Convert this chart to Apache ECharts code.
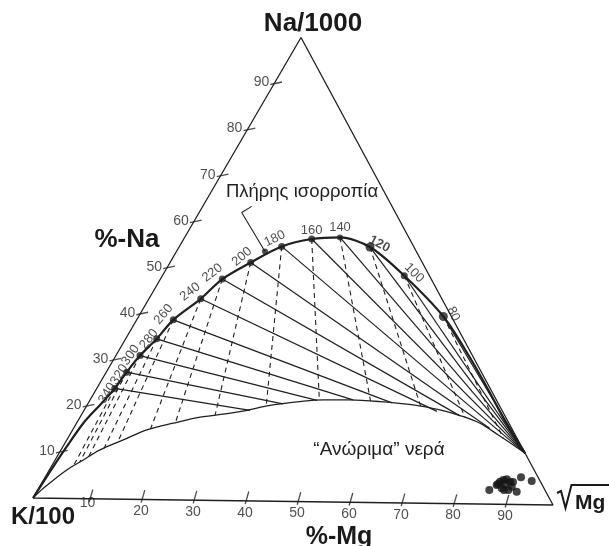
<!DOCTYPE html>
<html><head><meta charset="utf-8">
<script src="https://cdn.jsdelivr.net/npm/echarts/dist/echarts.min.js"></script>
<style>html,body{margin:0;padding:0;background:#fff;}#c{width:609px;height:546px;}</style>
</head><body><div id="c"></div>
<script>
// ---- Data (ternary percentages: Na and Mg; K = 100 - Na - Mg) ----
const eqTemps = [340,320,300,280,260,240,220,200,180,160,140,120,100,80];
const eqNa = [23.84,27.39,31.0,34.66,38.8,43.41,47.72,51.39,54.93,56.61,57.04,55.05,48.96,40.30];
const eqMg = [3.43,3.90,4.60,5.93,6.98,9.88,11.81,15.38,19.52,24.42,29.64,36.43,46.17,58.14];
const eqLowNa = [0,5.72,11.16,16.26,20.25];
const eqLowMg = [0,0.32,0.73,1.29,2.45];
const eqHighNa = [31.7,24.5,17.5,11.1];
const eqHighMg = [67.6,75.0,82.0,88.9];
const immNa = [0,2.12,6.14,8.34,10.55,12.77,15.0,16.52,17.89,19.22,20.76,21.98,22.06,21.78,21.16,20.16,18.79,17.41,14.94,12.83,11.1];
const immMg = [0,0.89,3.32,5.37,7.45,10.78,14.14,18.47,22.89,29.90,35.51,44.50,49.59,55.51,62.23,67.88,73.07,76.99,81.78,85.76,88.9];
const solidEndNa = [19.50,21.0,21.86,22.07,21.53,19.83,18.93,16.32,11.1,11.1,11.1,11.1,11.1,11.1];
const solidEndMg = [31.68,37.25,43.35,50.16,57.94,67.47,72.36,79.47,88.9,88.9,88.9,88.9,88.9,88.9];
const dashEndNa = [7.04,7.87,9.05,10.95,12.22,15.22,16.62,18.39,20.43,21.88,21.87,20.89,18.65,14.21];
const dashEndMg = [4.16,4.94,6.04,8.04,9.96,14.75,18.81,25.55,34.31,43.79,53.64,63.78,73.48,83.15];
const sampleNa = [3.05,4.15,4.87,5.25,5.41,4.90,3.45,3.83,2.76,5.88,5.11,3.11,4.39,4.37,4.84,3.09];
const sampleMg = [86.18,87.03,87.30,87.74,88.31,89.21,88.36,90.09,91.60,90.82,93.27,89.80,88.51,87.17,89.81,88.98];
const leaderNa = [53.8,62.14,63.47];
const leaderMg = [16.89,8.11,9.35];
const naTicks = [10,20,30,40,50,60,70,80,90];
const mgTicks = [10,20,30,40,50,60,70,80,90];

// ---- Layout / style (not data) ----
const VK = [33,498], VNa = [301,37.5], VMg = [553,505];
function T(na, mg){
  return [VK[0] + (VNa[0]-VK[0])*na/100 + (VMg[0]-VK[0])*mg/100,
          VK[1] + (VNa[1]-VK[1])*na/100 + (VMg[1]-VK[1])*mg/100];
}
const FONT = 'Liberation Sans, Arial, sans-serif';
const INK = '#1f1f1f';
const labelOffset = [[-8,-4],[-6,-5],[-5,-8],[-5,-6],[-2,-11],[-4,-12],[-4,-11],[-3,-10],[-3,-10],[0,-9],[0,-9.5],[7,-7],[5,-9],[2,-10]];
const labelRotate = [58,58,55,52,50,38,38,40,25,0,0,-28,-45,-65];
const dotSize = [7,7,7,7,7,7,7,7,7,7,6,9,7,9];

const eqCurve = [];
eqLowNa.forEach((v,i)=>eqCurve.push(T(v,eqLowMg[i])));
eqNa.forEach((v,i)=>eqCurve.push(T(v,eqMg[i])));
eqHighNa.forEach((v,i)=>eqCurve.push(T(v,eqHighMg[i])));
const immCurve = immNa.map((v,i)=>T(v,immMg[i]));
const solidLines = eqNa.map((v,i)=>({coords:[T(v,eqMg[i]), T(solidEndNa[i],solidEndMg[i])]}));
const dashLines = eqNa.map((v,i)=>({coords:[T(v,eqMg[i]), T(dashEndNa[i],dashEndMg[i])]}));

const chart = echarts.init(document.getElementById('c'), null, {renderer:'canvas'});
chart.setOption({
  animation:false,
  backgroundColor:'#fff',
  grid:{left:0,right:0,top:0,bottom:0,containLabel:false},
  xAxis:{type:'value',min:0,max:609,show:false},
  yAxis:{type:'value',min:0,max:546,inverse:true,show:false},
  series:[
    {type:'line',data:[T(0,0),T(100,0),T(0,100),T(0,0)],symbol:'none',silent:true,
     lineStyle:{color:INK,width:1.3}},
    {type:'lines',coordinateSystem:'cartesian2d',data:solidLines,silent:true,
     lineStyle:{color:INK,width:1.2,opacity:1}},
    {type:'lines',coordinateSystem:'cartesian2d',data:dashLines,silent:true,
     lineStyle:{color:INK,width:1.1,opacity:1,type:[5,4]}},
    {type:'line',data:immCurve,symbol:'none',smooth:0.3,silent:true,
     lineStyle:{color:INK,width:1.3}},
    {type:'line',data:eqCurve,symbol:'none',smooth:0.3,silent:true,
     lineStyle:{color:INK,width:2.2}},
    {type:'line',data:leaderNa.map((v,i)=>T(v,leaderMg[i])),symbol:'none',silent:true,
     lineStyle:{color:INK,width:1.1}},
    {type:'scatter',data:[T(leaderNa[0],leaderMg[0])],symbolSize:6,itemStyle:{color:INK},silent:true},
    {type:'scatter',silent:true,
     data:eqTemps.map((t,i)=>({value:T(eqNa[i],eqMg[i]),symbolSize:dotSize[i],
       label:{show:true,formatter:String(t),rotate:labelRotate[i],offset:labelOffset[i],
              fontWeight:(t===120)?'bold':'normal'}})),
     itemStyle:{color:INK},
     label:{position:'inside',color:INK,fontSize:13,fontFamily:FONT,align:'center',verticalAlign:'middle'}},
    {type:'scatter',silent:true,data:sampleNa.map((v,i)=>T(v,sampleMg[i])),symbolSize:8,
     itemStyle:{color:'#141414'}},
    // left-edge ticks
    {type:'scatter',silent:true,data:naTicks.map(v=>T(v,0)),symbol:'rect',symbolSize:[12,1.3],
     symbolRotate:12,symbolOffset:[2,-0.3],itemStyle:{color:INK}},
    {type:'scatter',silent:true,data:naTicks.map(v=>({value:T(v,0),label:{formatter:String(v)}})),
     symbolSize:1,itemStyle:{color:'rgba(0,0,0,0)'},
     label:{show:true,position:'inside',align:'right',verticalAlign:'middle',offset:[-5,-1],
            color:INK,fontSize:14,fontFamily:FONT}},
    // base ticks
    {type:'scatter',silent:true,data:mgTicks.map(v=>T(0,v)),symbol:'rect',symbolSize:[1.3,13],
     symbolRotate:-16,symbolOffset:[6,-3],itemStyle:{color:INK}},
    {type:'scatter',silent:true,
     data:mgTicks.map((v,i)=>({value:T(0,v),label:{formatter:String(v),offset:(i===0)?[2.5,4.5]:[4,12]}})),
     symbolSize:1,itemStyle:{color:'rgba(0,0,0,0)'},
     label:{show:true,position:'inside',align:'center',verticalAlign:'middle',
            color:INK,fontSize:14,fontFamily:FONT}}
  ],
  graphic:[
    {type:'text',x:313,y:24,style:{text:'Na/1000',font:'bold 26px '+FONT,fill:'#1a1a1a',align:'center',verticalAlign:'middle'}},
    {type:'text',x:127,y:240,style:{text:'%-Na',font:'bold 26px '+FONT,fill:'#1a1a1a',align:'center',verticalAlign:'middle'}},
    {type:'text',x:43,y:517,style:{text:'K/100',font:'bold 24px '+FONT,fill:'#1a1a1a',align:'center',verticalAlign:'middle'}},
    {type:'text',x:339,y:537,style:{text:'%-Mg',font:'bold 25px '+FONT,fill:'#1a1a1a',align:'center',verticalAlign:'middle'}},
    {type:'text',x:575,y:503,style:{text:'Mg',font:'bold 21px '+FONT,fill:'#1a1a1a',align:'left',verticalAlign:'middle'}},
    {type:'polyline',shape:{points:[[557,493],[561,491],[565.5,508],[571.5,485],[609,485]]},
     style:{stroke:'#1a1a1a',lineWidth:2,fill:null}},
    {type:'text',x:302,y:192,style:{text:'Πλήρης ισορροπία',font:'18.5px '+FONT,fill:INK,align:'center',verticalAlign:'middle'}},
    {type:'text',x:379,y:450,style:{text:'“Ανώριμα” νερά',font:'19px '+FONT,fill:INK,align:'center',verticalAlign:'middle'}}
  ]
});
</script></body></html>
